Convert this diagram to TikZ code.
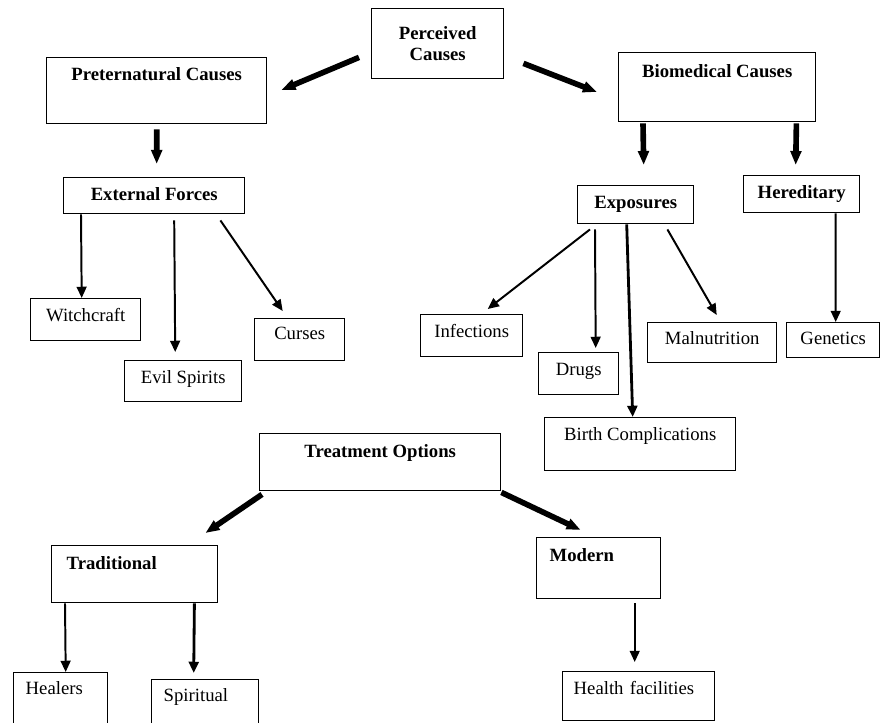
\documentclass[tikz,border=0pt]{standalone}
\usepackage{fontspec}
\setmainfont{Liberation Serif}
\usetikzlibrary{arrows.meta,calc}
\newcommand{\pxu}{0.025cm}
\tikzset{
  pbox/.style={draw, line width=1pt, anchor=north west, inner xsep=0pt, inner ysep=0pt,
    font=\fontsize{13.3}{15.5}\selectfont},
  bbox/.style={pbox, font=\fontsize{13.3}{15.5}\selectfont\bfseries},
  lbox/.style={pbox, align=left},
  thinarrow/.style={line width=1.4pt, -{Triangle[length=8pt,width=7pt]}},
  fatarrow/.style={line width=4pt, -{Triangle[length=10pt,width=7.5pt]}}
}
\begin{document}
\begin{tikzpicture}[x=0.025cm,y=-0.025cm]
\useasboundingbox (0,0) rectangle (881,723);
% top
\node[bbox, align=center, minimum width=132*\pxu, minimum height=70*\pxu] (per) at (371,8) {Perceived\\Causes};
\node[bbox, minimum width=220*\pxu, text height=23*\pxu, text depth=43*\pxu] (pre) at (46,57) {Preternatural Causes};
\node[bbox, minimum width=197*\pxu, text height=25*\pxu, text depth=44*\pxu] (bio) at (618,52) {Biomedical Causes};
% second row
\node[bbox, minimum width=181*\pxu, text height=23*\pxu, text depth=13*\pxu] (ext) at (63,177) {External Forces};
\node[bbox, minimum width=116*\pxu, text height=23*\pxu, text depth=15*\pxu] (exp) at (577,185) {Exposures};
\node[bbox, minimum width=116*\pxu, text height=23*\pxu, text depth=14*\pxu] (her) at (743,175) {Hereditary};
% causes
\node[pbox, minimum width=110*\pxu, text height=23*\pxu, text depth=19*\pxu] (wit) at (30,298) {Witchcraft};
\node[pbox, minimum width=117*\pxu, text height=23*\pxu, text depth=18*\pxu] (evi) at (124,360) {Evil Spirits};
\node[pbox, minimum width=90*\pxu, text height=21*\pxu, text depth=21*\pxu] (cur) at (254,318) {Curses};
\node[pbox, minimum width=102*\pxu, text height=23*\pxu, text depth=19*\pxu] (inf) at (420,314) {Infections};
\node[pbox, minimum width=80*\pxu, text height=23*\pxu, text depth=19*\pxu] (dru) at (538,352) {Drugs};
\node[pbox, minimum width=129*\pxu, text height=22*\pxu, text depth=18*\pxu] (mal) at (647,322) {Malnutrition};
\node[pbox, minimum width=93*\pxu, text height=22*\pxu, text depth=13*\pxu] (gen) at (786,322) {Genetics};
\node[pbox, minimum width=191*\pxu, text height=23*\pxu, text depth=30*\pxu] (bir) at (544,417) {Birth Complications};
% treatment
\node[bbox, minimum width=241*\pxu, text height=24*\pxu, text depth=33*\pxu] (tre) at (259,433) {Treatment Options};
\node[bbox, align=left, inner xsep=15*\pxu, text width=136*\pxu, text height=24*\pxu, text depth=33*\pxu] (tra) at (51,545) {Traditional};
\node[bbox, align=left, inner xsep=13*\pxu, text width=98*\pxu, text height=24*\pxu, text depth=37*\pxu] (mod) at (536,537) {Modern};
\node[lbox, inner xsep=12*\pxu, text width=70*\pxu, text height=22*\pxu, text depth=29*\pxu] (hea) at (13,672) {Healers};
\node[lbox, inner xsep=12*\pxu, text width=83*\pxu, text height=22*\pxu, text depth=26*\pxu] (spi) at (151,679) {Spiritual};
\node[lbox, inner xsep=11*\pxu, text width=130*\pxu, text height=23*\pxu, text depth=26*\pxu] (hfa) at (562,671) {Health facilities};
% fat arrows
\draw[fatarrow] ($(per.south west)+(-12,-22)$) -- ($(pre.north east)+(14,33)$);
\draw[fatarrow] ($(per.south east)+(19,-16)$) -- ($(bio.north west)+(-21,40)$);
\draw[fatarrow] ($(pre.south)+(0,5)$) -- ($(ext.north)+(2.5,-13)$);
\draw[fatarrow] ($(bio.south west)+(25,1)$) -- ($(exp.north)+(8,-20)$);
\draw[fatarrow] ($(bio.south east)+(-20,1)$) -- ($(her.north)+(-6,-10)$);
\draw[fatarrow] ($(tre.south west)+(3,3)$) -- ($(tra.north east)+(-13,-12)$);
\draw[fatarrow] ($(tre.south east)+(0,1)$) -- ($(mod.north)+(-18,-7)$);
% thin arrows
\draw[thinarrow] ($(ext.south west)+(18,0)$) -- ($(wit.north)+(-4,0)$);
\draw[thinarrow] ($(ext.south)+(20,6)$) -- ($(evi.north)+(-8,-8)$);
\draw[thinarrow] ($(ext.south east)+(-25,6)$) -- ($(cur.north)+(-17,-7)$);
\draw[thinarrow] ($(exp.south west)+(13,5)$) -- ($(inf.north)+(16,-5)$);
\draw[thinarrow] ($(exp.south west)+(18,5)$) -- ($(dru.north)+(17,-4)$);
\draw[thinarrow, line width=2pt] ($(exp.south)+(-9,0)$) -- ($(bir.north)+(-7.5,0)$);
\draw[thinarrow] ($(exp.south east)+(-27,5)$) -- ($(mal.north)+(4.5,-7)$);
\draw[thinarrow] ($(her.south)+(34,0)$) -- ($(gen.north)+(2.5,0)$);
\draw[thinarrow] ($(tra.south west)+(14,0)$) -- ($(hea.north)+(5,0)$);
\draw[thinarrow, line width=2pt] ($(tra.south east)+(-24,0)$) -- ($(spi.north)+(-11.5,-6)$);
\draw[thinarrow] ($(mod.south)+(36,4)$) -- ($(hfa.north)+(-4,-9)$);
\end{tikzpicture}
\end{document}
